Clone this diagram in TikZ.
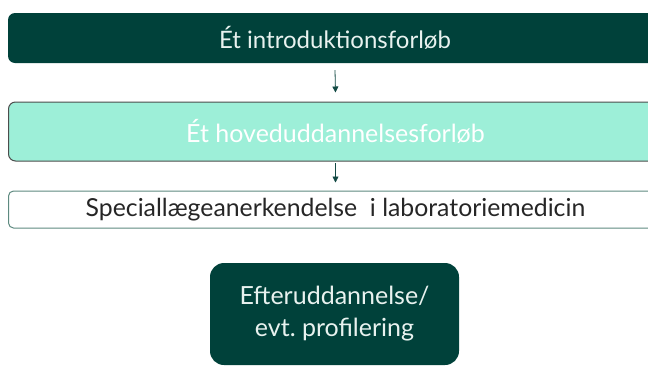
\documentclass[tikz,border=0pt]{standalone}
\usepackage{fontspec}
\setmainfont{Lato}
\definecolor{dkgreen}{HTML}{00413A}
\definecolor{mint}{HTML}{9DEFD8}
\definecolor{tealgray}{HTML}{5E8A80}
\definecolor{txtlight}{HTML}{E8F2EF}
\usetikzlibrary{arrows.meta,calc}
\tikzset{
  box/.style={rounded corners=7pt, minimum width=654pt, inner sep=0pt},
  flow/.style={draw=dkgreen!85!gray, line width=0.8pt, -{Triangle[length=6pt,width=6pt]}}
}
\begin{document}
\begin{tikzpicture}[x=1pt,y=-1pt]
\useasboundingbox (0,0) rectangle (648,365);
\clip (0,0) rectangle (648,365);
\node[box, fill=dkgreen, text=txtlight, minimum height=50pt, font=\fontsize{24}{28}\selectfont] (a) at (335,38) {Ét introduktionsforløb};
\node[box, fill=mint, draw=black!70, line width=1pt, text=white, minimum height=59pt, font=\fontsize{25}{28}\selectfont] (b) at (335.5,131.5) {Ét hoveduddannelsesforløb};
\node[box, fill=white, draw=tealgray, line width=1pt, text=black!85, minimum height=37pt, rounded corners=5pt, font=\fontsize{24.8}{28}\selectfont] (c) at (335.5,209.5) {Speciallægeanerkendelse\ \ i laboratoriemedicin};
\node[fill=dkgreen, text=txtlight, rounded corners=14pt, minimum width=249pt, minimum height=102pt, align=center, font=\fontsize{25}{32}\selectfont] (d) at (334.5,314) {Efteruddannelse/\\evt.\ profilering};
\draw[flow] ($(a.south)+(0,7)$) -- ($(b.north)+(0,-9)$);
\draw[flow] ($(b.south)+(0,1.5)$) -- ($(c.north)+(0,-8)$);
\end{tikzpicture}
\end{document}
